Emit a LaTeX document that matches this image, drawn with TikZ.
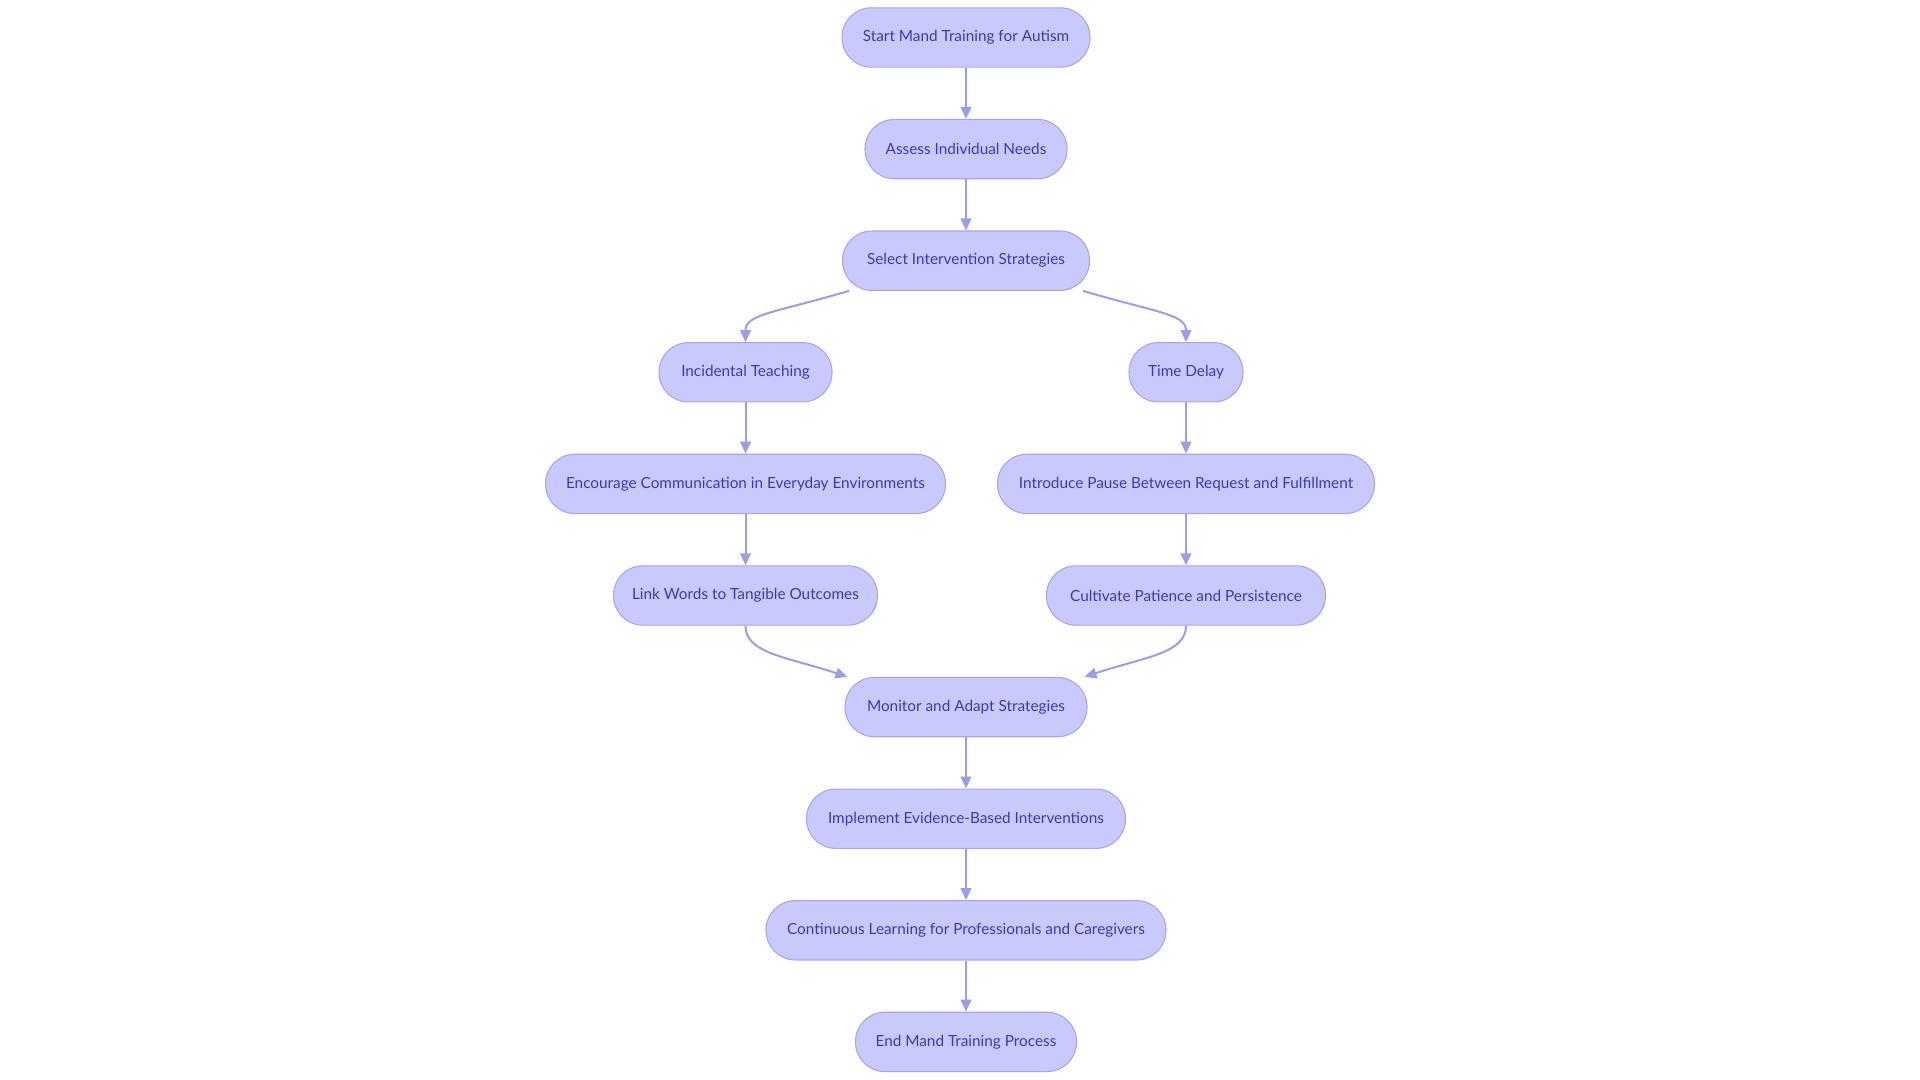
\documentclass[tikz,border=0pt]{standalone}
\usepackage{fontspec}
\setmainfont{Lato}
\usetikzlibrary{arrows.meta,calc}
\definecolor{nodefill}{HTML}{C9CAFB}
\definecolor{nodedraw}{HTML}{A3A6EE}
\definecolor{nodetext}{HTML}{3A3AB0}
\definecolor{edgecol}{HTML}{9A9EE9}
\begin{document}
\begin{tikzpicture}[x=0.75pt,y=-0.75pt,
  stadium/.style={rectangle, rounded corners=22pt, draw=nodedraw, line width=0.8pt,
    fill=nodefill, text=nodetext, minimum height=44.5pt, inner sep=0pt,
    font=\fontsize{11.5}{13.5}\selectfont},
  flow/.style={draw=edgecol, line width=1.5pt, -{Triangle[length=9pt,width=8pt]}}]
\useasboundingbox[fill=white] (0,0) rectangle (1920,1080);
\node[stadium, minimum width=186pt] (start) at (966,37.5) {Start Mand Training for Autism};
\node[stadium, minimum width=151.5pt] (assess) at (966,149.1) {Assess Individual Needs};
\node[stadium, minimum width=185.25pt] (select) at (966,260.7) {Select Intervention Strategies};
\node[stadium, minimum width=129.75pt] (inc) at (745.5,372.3) {Incidental Teaching};
\node[stadium, minimum width=85.5pt] (delay) at (1186,372.3) {Time Delay};
\node[stadium, minimum width=300pt] (enc) at (745.5,483.9) {Encourage Communication in Everyday Environments};
\node[stadium, minimum width=282.75pt] (intro) at (1186,483.9) {Introduce Pause Between Request and Fulfillment};
\node[stadium, minimum width=198pt] (link) at (745.5,595.5) {Link Words to Tangible Outcomes};
\node[stadium, minimum width=209.25pt] (cult) at (1186,595.5) {Cultivate Patience and Persistence};
\node[stadium, minimum width=181.5pt] (mon) at (966,707.1) {Monitor and Adapt Strategies};
\node[stadium, minimum width=239.25pt] (impl) at (966,818.7) {Implement Evidence-Based Interventions};
\node[stadium, minimum width=300pt] (cont) at (966,930.3) {Continuous Learning for Professionals and Caregivers};
\node[stadium, minimum width=165.75pt] (end) at (966,1041.9) {End Mand Training Process};
\draw[flow] (start) -- (assess);
\draw[flow] (assess) -- (select);
\draw[flow] ($(select.south west)+(7,0)$) .. controls +(-75,22) and +(0,-28) .. (inc.north);
\draw[flow] ($(select.south east)+(-7,0)$) .. controls +(75,22) and +(0,-28) .. (delay.north);
\draw[flow] (inc) -- (enc);
\draw[flow] (enc) -- (link);
\draw[flow] (delay) -- (intro);
\draw[flow] (intro) -- (cult);
\draw[flow] (link.south) .. controls +(0,28) and +(-60,-20) .. ($(mon.north west)+(3,0)$);
\draw[flow] (cult.south) .. controls +(0,28) and +(60,-20) .. ($(mon.north east)+(-3,0)$);
\draw[flow] (mon) -- (impl);
\draw[flow] (impl) -- (cont);
\draw[flow] (cont) -- (end);
\end{tikzpicture}
\end{document}
